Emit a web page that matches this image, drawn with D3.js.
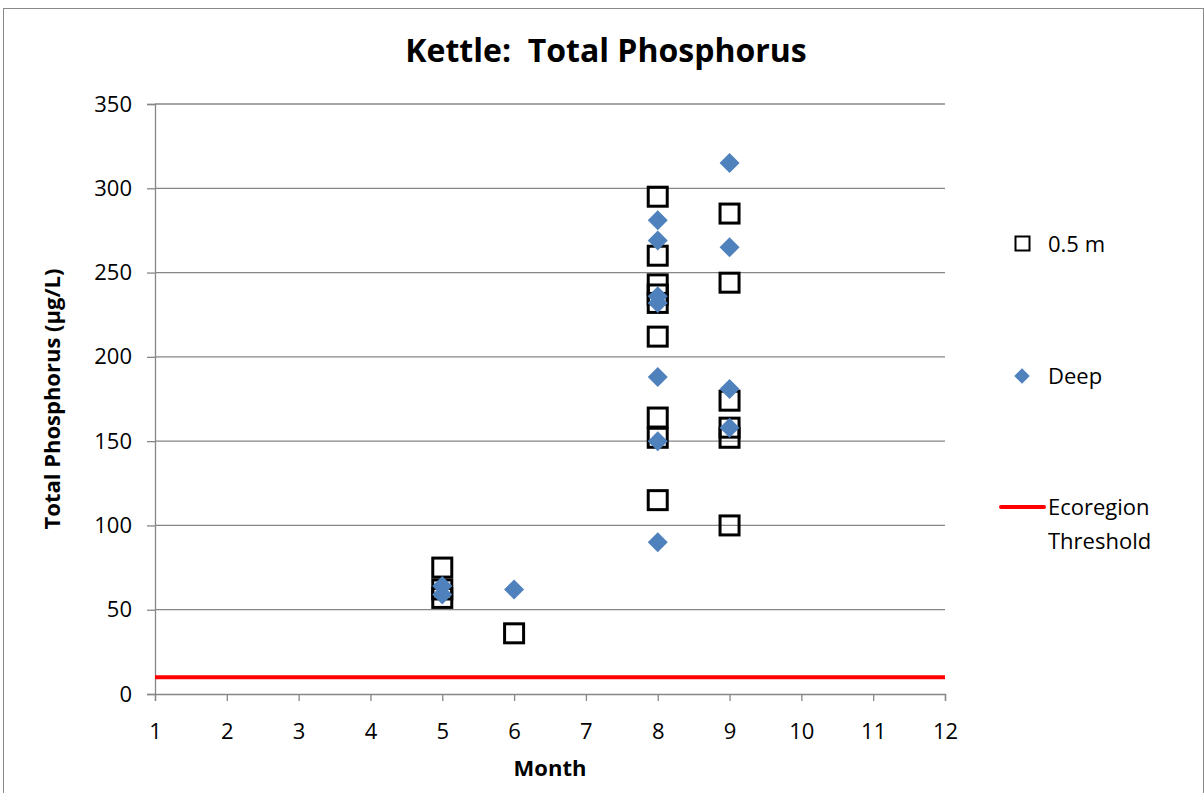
<!DOCTYPE html>
<html lang="en"><head>
<meta charset="utf-8">
<title>Kettle: Total Phosphorus</title>
<script src="https://cdn.jsdelivr.net/npm/d3@7"></script>
<style>
  body { margin: 0; background: #fff; }
  text { font-family: "Open Sans", Lato, sans-serif; white-space: pre; }
</style>
</head>
<body>
<script type="text/javascript">

var width = 1204;
var height = 793;

// data
var shallowMonth = [5, 5, 5, 6, 8, 8, 8, 8, 8, 8, 8, 8, 8, 9, 9, 9, 9, 9, 9];
var shallowTP    = [75, 62, 57, 36, 295, 260, 243, 237, 232, 212, 164, 152, 115, 285, 244, 174, 158, 152, 100];
var deepMonth = [5, 5, 6, 8, 8, 8, 8, 8, 8, 8, 9, 9, 9, 9];
var deepTP    = [64, 59, 62, 281, 269, 236, 232, 188, 150, 90, 315, 265, 181, 158];
var threshold = 10;
var xTicks = [1, 2, 3, 4, 5, 6, 7, 8, 9, 10, 11, 12];
var yTicks = [0, 50, 100, 150, 200, 250, 300, 350];

var margin = {left: 155, right: 259, top: 104, bottom: 99};

var svg = d3.select("body").append("svg")
            .attr("width", width)
            .attr("height", height);

// chart border
svg.append("rect")
    .attr("x", 3.5).attr("y", 8.5)
    .attr("width", width - 4).attr("height", height)
    .attr("fill", "white")
    .attr("stroke", "#898989")
    .attr("stroke-width", 1);

var x = d3.scaleLinear().domain([1, 12]).range([margin.left, width - margin.right]);
var y = d3.scaleLinear().domain([0, 350]).range([height - margin.bottom, margin.top]);

// gridlines
svg.append("g")
    .selectAll("line")
    .data(yTicks.slice(1))
    .enter()
    .append("line")
    .attr("x1", x(1)).attr("x2", x(12))
    .attr("y1", function(d){ return y(d); })
    .attr("y2", function(d){ return y(d); })
    .attr("stroke", "#868686")
    .attr("stroke-width", 1.3);

// axes
var xAxis = svg.append("g")
    .attr("transform", "translate(0," + y(0) + ")")
    .call(d3.axisBottom(x).tickValues(xTicks).tickSize(7).tickPadding(19));
var yAxis = svg.append("g")
    .attr("transform", "translate(" + x(1) + ",0)")
    .call(d3.axisLeft(y).tickValues(yTicks).tickSize(8).tickPadding(15));

[xAxis, yAxis].forEach(function(a){
    a.select(".domain").attr("stroke", "#868686").attr("stroke-width", 1.3);
    a.selectAll(".tick line").attr("stroke", "#868686").attr("stroke-width", 1.3);
    a.selectAll(".tick text").attr("font-size", 22).attr("fill", "#000")
        .style("font-family", "'Open Sans', Lato, sans-serif");
});
xAxis.selectAll(".tick text").attr("dy", null).attr("dominant-baseline", "hanging");

// threshold line
svg.append("line")
    .attr("x1", x(1)).attr("x2", x(12))
    .attr("y1", y(threshold)).attr("y2", y(threshold))
    .attr("stroke", "#ff0000")
    .attr("stroke-width", 4);

// 0.5 m squares
var sq = 19;
svg.append("g")
    .selectAll("rect")
    .data(shallowTP)
    .enter()
    .append("rect")
    .attr("x", function(d, i){ return x(shallowMonth[i]) - sq / 2; })
    .attr("y", function(d){ return y(d) - sq / 2; })
    .attr("width", sq).attr("height", sq)
    .attr("fill", "none")
    .attr("stroke", "#000")
    .attr("stroke-width", 3);

// deep diamonds
var diamond = d3.symbol().type(d3.symbolSquare).size(200);
svg.append("g")
    .selectAll("path")
    .data(deepTP)
    .enter()
    .append("path")
    .attr("d", diamond)
    .attr("transform", function(d, i){
        return "translate(" + x(deepMonth[i]) + "," + y(d) + ") rotate(45)";
    })
    .attr("fill", "#4f81bd");

// title
svg.append("text")
    .attr("x", 606).attr("y", 62)
    .attr("text-anchor", "middle")
    .attr("font-size", 32)
    .attr("font-weight", "bold")
    .text("Kettle:  Total Phosphorus");

// axis titles
svg.append("text")
    .attr("x", x(6.5)).attr("y", 776)
    .attr("text-anchor", "middle")
    .attr("font-size", 22)
    .attr("font-weight", "bold")
    .text("Month");

svg.append("text")
    .attr("transform", "translate(60," + y(175) + ") rotate(-90)")
    .attr("text-anchor", "middle")
    .attr("font-size", 22)
    .attr("font-weight", "bold")
    .text("Total Phosphorus (µg/L)");

// legend
var lg = svg.append("g");
lg.append("rect")
    .attr("x", 1015.5).attr("y", 236.5)
    .attr("width", 14).attr("height", 14)
    .attr("fill", "none").attr("stroke", "#000").attr("stroke-width", 2);
lg.append("text").attr("x", 1048).attr("y", 252).attr("font-size", 22).text("0.5 m");

lg.append("path")
    .attr("d", d3.symbol().type(d3.symbolSquare).size(120))
    .attr("transform", "translate(1022,376) rotate(45)")
    .attr("fill", "#4f81bd");
lg.append("text").attr("x", 1048).attr("y", 384).attr("font-size", 22).text("Deep");

lg.append("line")
    .attr("x1", 1001).attr("x2", 1044)
    .attr("y1", 507).attr("y2", 507)
    .attr("stroke", "#ff0000").attr("stroke-width", 4)
    .attr("stroke-linecap", "round");
lg.append("text").attr("x", 1048).attr("y", 515).attr("font-size", 22).text("Ecoregion");
lg.append("text").attr("x", 1048).attr("y", 549).attr("font-size", 22).text("Threshold");

</script>
</body></html>
